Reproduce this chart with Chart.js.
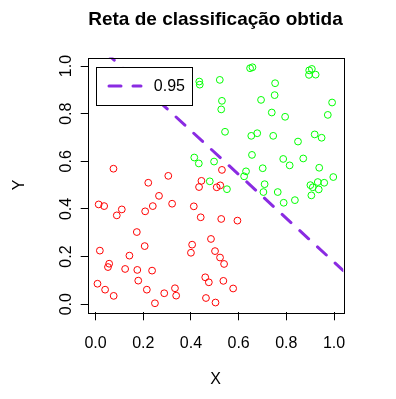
<!DOCTYPE html>
<html>
<head>
<meta charset="utf-8">
<script src="https://cdn.jsdelivr.net/npm/chart.js@4.4.1/dist/chart.umd.min.js"></script>
<style>
  html, body { margin: 0; padding: 0; background: #fff; }
  #wrap { width: 396px; height: 399px; }
</style>
</head>
<body>
<div id="wrap"><canvas id="grafico" width="396" height="399"></canvas></div>
<script>
// classe 0 (vermelho)
const redX = [0.530, 0.508, 0.523, 0.527, 0.595, 0.075, 0.305, 0.221, 0.444, 0.434,
  0.266, 0.013, 0.036, 0.321, 0.240, 0.110, 0.089, 0.208, 0.412, 0.441,
  0.173, 0.018, 0.206, 0.142, 0.405, 0.400, 0.484, 0.501, 0.057, 0.052,
  0.124, 0.175, 0.237, 0.008, 0.040, 0.076, 0.179, 0.215, 0.288, 0.333,
  0.338, 0.249, 0.460, 0.475, 0.463, 0.503, 0.522, 0.539, 0.536, 0.577];
const redY = [0.564, 0.491, 0.499, 0.358, 0.351, 0.569, 0.539, 0.510, 0.518, 0.492,
  0.455, 0.419, 0.412, 0.422, 0.412, 0.398, 0.373, 0.390, 0.411, 0.365,
  0.303, 0.225, 0.244, 0.204, 0.250, 0.216, 0.274, 0.223, 0.170, 0.156,
  0.148, 0.144, 0.141, 0.086, 0.061, 0.035, 0.099, 0.061, 0.046, 0.067,
  0.036, 0.004, 0.113, 0.092, 0.026, 0.007, 0.196, 0.169, 0.098, 0.066];

// classe 1 (verde)
const greenX = [0.648, 0.658, 0.521, 0.753, 0.896, 0.907, 0.895, 0.923, 0.530, 0.527,
  0.694, 0.751, 0.992, 0.739, 0.795, 0.974, 0.543, 0.653, 0.678, 0.745,
  0.849, 0.919, 0.948, 0.435, 0.437, 0.656, 0.787, 0.871, 0.814, 0.701,
  0.938, 0.631, 0.623, 0.997, 0.709, 0.704, 0.764, 0.901, 0.911, 0.932,
  0.959, 0.936, 0.905, 0.789, 0.836, 0.551, 0.497, 0.414, 0.433, 0.479];
const greenY = [0.991, 0.995, 0.942, 0.928, 0.982, 0.988, 0.963, 0.964, 0.854, 0.818,
  0.858, 0.878, 0.847, 0.805, 0.787, 0.795, 0.724, 0.707, 0.718, 0.707,
  0.683, 0.713, 0.699, 0.935, 0.922, 0.627, 0.610, 0.612, 0.583, 0.571,
  0.573, 0.558, 0.537, 0.534, 0.504, 0.471, 0.471, 0.500, 0.491, 0.513,
  0.510, 0.482, 0.457, 0.426, 0.437, 0.483, 0.599, 0.616, 0.591, 0.516];

// reta de classificação
const lineX = [-0.033, 1.039];
const lineY = [1.127, 0.141];
const lineLabel = "0.95";

const xTicks = [0, 0.2, 0.4, 0.6, 0.8, 1.0];
const yTicks = [0, 0.2, 0.4, 0.6, 0.8, 1.0];

const FONT = "'Liberation Sans', Arial, Helvetica, sans-serif";
Chart.defaults.font.family = FONT;
Chart.defaults.color = "#000";

function toPoints(xs, ys) {
  return xs.map((x, i) => ({ x: x, y: ys[i] }));
}

const moldura = {
  id: "moldura",
  afterDraw(chart) {
    const ctx = chart.ctx;
    const a = chart.chartArea;
    ctx.save();
    // caixa do grafico
    ctx.strokeStyle = "#000";
    ctx.lineWidth = 1;
    ctx.setLineDash([]);
    ctx.strokeRect(Math.round(a.left) + 0.5, Math.round(a.top) + 0.5,
      Math.round(a.right - a.left), Math.round(a.bottom - a.top));

    // titulo
    ctx.fillStyle = "#000";
    ctx.font = "bold 19px " + FONT;
    ctx.textAlign = "center";
    ctx.textBaseline = "alphabetic";
    ctx.fillText("Reta de classificação obtida", (a.left + a.right) / 2, 24.5);

    // legenda
    const lx = Math.round(a.left) + 8, ly = Math.round(a.top) + 9;
    ctx.fillStyle = "#fff";
    ctx.fillRect(lx, ly, 96, 38);
    ctx.strokeRect(lx + 0.5, ly + 0.5, 96, 38);
    ctx.strokeStyle = "#8A2BE2";
    ctx.lineWidth = 3;
    ctx.lineCap = "round";
    ctx.setLineDash([12, 12]);
    ctx.beginPath();
    ctx.moveTo(lx + 13, ly + 19);
    ctx.lineTo(lx + 45, ly + 19);
    ctx.stroke();
    ctx.setLineDash([]);
    ctx.fillStyle = "#000";
    ctx.font = "16px " + FONT;
    ctx.textAlign = "right";
    ctx.textBaseline = "middle";
    ctx.fillText(lineLabel, lx + 89, ly + 19.5);
    ctx.restore();
  }
};

new Chart(document.getElementById("grafico"), {
  type: "scatter",
  data: {
    datasets: [
      {
        label: "classe 0",
        data: toPoints(redX, redY),
        borderColor: "#ff0000",
        backgroundColor: "rgba(0,0,0,0)",
        borderWidth: 1,
        pointRadius: 3.4,
      },
      {
        label: "classe 1",
        data: toPoints(greenX, greenY),
        borderColor: "#00ff00",
        backgroundColor: "rgba(0,0,0,0)",
        borderWidth: 1,
        pointRadius: 3.4,
      },
      {
        label: lineLabel,
        data: toPoints(lineX, lineY),
        showLine: true,
        borderColor: "#8A2BE2",
        borderWidth: 3,
        borderDash: [12, 12],
        borderCapStyle: "round",
        pointRadius: 0,
        clip: 0,
      },
    ],
  },
  options: {
    responsive: false,
    animation: false,
    events: [],
    layout: { padding: { top: 57.5, right: 52.7, bottom: 0, left: 0 } },
    plugins: {
      legend: { display: false },
      title: { display: false },
      tooltip: { enabled: false },
    },
    scales: {
      x: {
        type: "linear",
        min: -0.033,
        max: 1.039,
        afterBuildTicks: (s) => { s.ticks = xTicks.map((v) => ({ value: v })); },
        afterFit: (s) => { s.height = 86.7; },
        border: { display: false },
        grid: { drawOnChartArea: false, drawTicks: true, tickLength: 8, color: "#000" },
        ticks: {
          font: { size: 16 },
          padding: 14,
          maxRotation: 0,
          callback: (v) => v.toFixed(1),
        },
        title: { display: true, text: "X", font: { size: 16 }, padding: { top: 0, bottom: 9.4 } },
      },
      y: {
        type: "linear",
        min: -0.034,
        max: 1.036,
        afterBuildTicks: (s) => { s.ticks = yTicks.map((v) => ({ value: v })); },
        afterFit: (s) => { s.width = 87.7; },
        border: { display: false },
        grid: { drawOnChartArea: false, drawTicks: true, tickLength: 7, color: "#000" },
        ticks: {
          font: { size: 16 },
          padding: 3,
          minRotation: 90,
          maxRotation: 90,
          crossAlign: "center",
          callback: (v) => v.toFixed(1),
        },
        title: { display: true, text: "Y", font: { size: 16 }, padding: { top: 10.4, bottom: 0 } },
      },
    },
  },
  plugins: [moldura],
});
</script>
</body>
</html>
